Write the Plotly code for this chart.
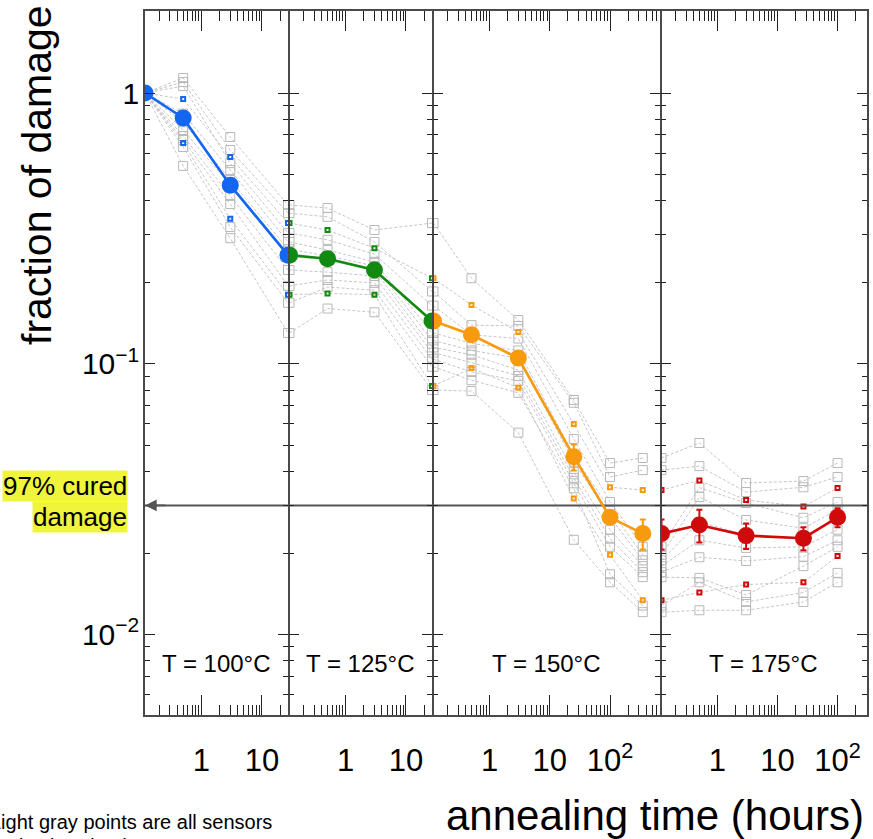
import numpy as np
import plotly.graph_objects as go

# ---------------------------------------------------------------- data
T_START = 0.117          # start of each annealing step (left edge of its panel)
CURED_LEVEL = 0.03       # 97 % of the damage annealed

TEMPS = ["100", "125", "150", "175"]

# annealing time at each temperature (hours)
TIMES_100 = [T_START, 0.5, 3, 27]
TIMES_125 = [T_START, 0.5, 3, 27]
TIMES_150 = [T_START, 0.5, 3, 25, 100, 350]
TIMES_175 = [T_START, 0.5, 3, 27, 100]

# average fraction of damage and its uncertainty
AVG_100 = [1.0, 0.809, 0.457, 0.252]
AVG_125 = [0.252, 0.2445, 0.222, 0.144]
AVG_150 = [0.144, 0.128, 0.105, 0.0454, 0.0271, 0.0236]
AVG_175 = [0.0236, 0.0254, 0.0232, 0.0227, 0.0271]

ERR_100 = [0.0, 0.02, 0.015, 0.008]
ERR_125 = [0.008, 0.008, 0.007, 0.006]
ERR_150 = [0.006, 0.005, 0.005, 0.005, 0.0015, 0.003]
ERR_175 = [0.003, 0.0035, 0.0025, 0.0022, 0.0022]

# individual sensors: one row per time point, one column per sensor
S_100 = [
    [1.0, 1.0, 1.0, 1.0, 1.0, 1.0, 1.0, 1.0, 1.0, 1.0, 1.0, 1.0],
    [1.136, 1.098, 0.950, 1.061, 0.840, 0.780, 0.730, 0.694, 0.671, 0.654, 0.632, 0.538],
    [0.688, 0.616, 0.580, 0.551, 0.520, 0.477, 0.457, 0.417, 0.389, 0.343, 0.320, 0.291],
    [0.386, 0.360, 0.331, 0.304, 0.282, 0.265, 0.250, 0.222, 0.194, 0.180, 0.168, 0.130],
]
S_125 = [
    S_100[-1],
    [0.376, 0.349, 0.312, 0.287, 0.263, 0.250, 0.242, 0.218, 0.204, 0.182, 0.192, 0.160],
    [0.312, 0.282, 0.267, 0.254, 0.238, 0.230, 0.222, 0.211, 0.199, 0.180, 0.187, 0.155],
    [0.331, 0.185, 0.207, 0.164, 0.130, 0.122, 0.115, 0.110, 0.104, 0.0828, 0.0975, 0.0800],
]
S_150 = [
    S_125[-1],
    [0.207, 0.139, 0.165, 0.128, 0.119, 0.112, 0.108, 0.101, 0.0933, 0.0964, 0.0870, 0.0793],
    [0.145, 0.138, 0.131, 0.124, 0.112, 0.105, 0.0948, 0.0902, 0.0865, 0.0815, 0.0781, 0.0557],
    [0.0735, 0.0718, 0.0599, 0.0528, 0.0459, 0.0435, 0.0399, 0.0379, 0.0362, 0.0318, 0.0347, 0.0224],
    [0.0430, 0.0382, 0.0350, 0.0309, 0.0289, 0.0272, 0.0244, 0.0226, 0.0211, 0.0197, 0.0167, 0.0156],
    [0.0449, 0.0405, 0.0342, 0.0211, 0.0197, 0.0188, 0.0179, 0.0170, 0.0163, 0.0134, 0.0128, 0.0121],
]
S_175 = [
    S_150[-1],
    [0.0510, 0.0419, 0.0371, 0.0349, 0.0322, 0.0261, 0.0223, 0.0193, 0.0162, 0.0143, 0.0156, 0.0123],
    [0.0363, 0.0336, 0.0314, 0.0306, 0.0265, 0.0233, 0.0209, 0.0187, 0.0140, 0.0153, 0.0132, 0.0123],
    [0.0369, 0.0350, 0.0297, 0.0270, 0.0247, 0.0225, 0.0211, 0.0194, 0.0179, 0.0156, 0.0143, 0.0132],
    [0.0430, 0.0382, 0.0348, 0.0309, 0.0289, 0.0272, 0.0244, 0.0223, 0.0211, 0.0195, 0.0169, 0.0156],
]

# sensors drawn with coloured markers
HIGHLIGHT = [2, 9]

X_TICKS = [1, 10, 100]
X_TICK_TEXT = ["1", "10", "10<sup>2</sup>"]
Y_TICKS = [0.01, 0.1, 1]
Y_TICK_TEXT = ["10<sup>\u22122</sup>", "10<sup>\u22121</sup>", "1"]

# ---------------------------------------------------------------- styling
W, H = 873, 839
FONT = "Liberation Sans, Arial, Helvetica, sans-serif"
COLORS = ["#1466f0", "#128a12", "#f79a0e", "#d00a0a"]
GRAY_LINE = "#c6c6c6"
GRAY_MARK = "#b8b8b8"
AXIS_COLOR = "#4a4a4a"
TICK_COLOR = "#222222"
LINE_W = 1.5

# panel extents in pixels and log10 x-ranges
PANEL_PX = [(145, 288), (288, 432), (432, 660), (660, 867)]
X_RANGES = [
    (np.log10(T_START), np.log10(27)),
    (np.log10(T_START), np.log10(27)),
    (np.log10(T_START), 2.83),
    (np.log10(T_START), 2.49),
]
Y_PX = (11, 715)
Y_RANGE = (-2.297, 0.303)


def px(x):
    return x / W


def py(y):
    return 1 - y / H


x_minor = [m * 10.0 ** e for e in (-1, 0, 1, 2) for m in range(2, 10)]
y_minor = [m * 10.0 ** e for e in (-3, -2, -1, 0) for m in range(2, 10)]

panels = [
    (TIMES_100, S_100, AVG_100, ERR_100),
    (TIMES_125, S_125, AVG_125, ERR_125),
    (TIMES_150, S_150, AVG_150, ERR_150),
    (TIMES_175, S_175, AVG_175, ERR_175),
]

fig = go.Figure()

for k, (times, sensors, avg, err) in enumerate(panels):
    xa = "x" if k == 0 else f"x{k + 1}"
    ya = "y" if k == 0 else f"y{k + 1}"
    color = COLORS[k]
    n_sens = len(sensors[0])

    # dashed gray path of every sensor
    gx, gy = [], []
    for s in range(n_sens):
        gx += list(times) + [None]
        gy += [row[s] for row in sensors] + [None]
    fig.add_trace(go.Scatter(
        x=gx, y=gy, mode="lines", xaxis=xa, yaxis=ya,
        line=dict(color=GRAY_LINE, width=1, dash="3px,2px"),
        hoverinfo="skip", showlegend=False))

    # open gray squares, coloured marks for the highlighted sensors
    mx, my, hx, hy = [], [], [], []
    for s in range(n_sens):
        for t, row in zip(times, sensors):
            if s in HIGHLIGHT:
                hx.append(t)
                hy.append(row[s])
            else:
                mx.append(t)
                my.append(row[s])
    fig.add_trace(go.Scatter(
        x=mx, y=my, mode="markers", xaxis=xa, yaxis=ya,
        marker=dict(symbol="square-open", size=9, color=GRAY_MARK,
                    line=dict(width=1, color=GRAY_MARK)),
        hoverinfo="skip", showlegend=False))
    fig.add_trace(go.Scatter(
        x=hx, y=hy, mode="markers", xaxis=xa, yaxis=ya,
        marker=dict(symbol="square-open", size=4, color=color,
                    line=dict(width=2, color=color)),
        hoverinfo="skip", showlegend=False))

    # 97 % cured reference level
    r0, r1 = X_RANGES[k]
    fig.add_trace(go.Scatter(
        x=[10 ** r0, 10 ** r1], y=[CURED_LEVEL, CURED_LEVEL], mode="lines",
        xaxis=xa, yaxis=ya, line=dict(color="#555555", width=2),
        hoverinfo="skip", showlegend=False))

    # average over sensors
    fig.add_trace(go.Scatter(
        x=times, y=avg, mode="lines+markers", xaxis=xa, yaxis=ya,
        line=dict(color=color, width=2.6),
        marker=dict(size=17, color=color, line=dict(width=0)),
        error_y=dict(type="data", array=err, color=color, thickness=2, width=3),
        showlegend=False))

# ---------------------------------------------------------------- axes
layout = dict(
    width=W, height=H, autosize=False,
    margin=dict(l=0, r=0, t=0, b=0),
    paper_bgcolor="white", plot_bgcolor="white",
    font=dict(family=FONT, color="black"),
    showlegend=False,
)

for k in range(4):
    xkey = "xaxis" if k == 0 else f"xaxis{k + 1}"
    ykey = "yaxis" if k == 0 else f"yaxis{k + 1}"
    xa = "x" if k == 0 else f"x{k + 1}"
    ya = "y" if k == 0 else f"y{k + 1}"
    x0, x1 = PANEL_PX[k]
    if k > 0:
        # shared border: let this panel's left line sit on the previous right line
        x0 = x0 + LINE_W
    layout[xkey] = dict(
        type="log", range=list(X_RANGES[k]), domain=[px(x0), px(x1)],
        anchor=ya, showgrid=False, zeroline=False,
        showline=True, linecolor=AXIS_COLOR, linewidth=LINE_W, mirror="ticks",
        ticks="inside", ticklen=20, tickwidth=1.2, tickcolor=TICK_COLOR,
        tickvals=X_TICKS, ticktext=X_TICK_TEXT,
        tickfont=dict(size=31, family=FONT, color="black"),
        ticklabelstandoff=17,
        minor=dict(tickvals=x_minor, ticks="inside", ticklen=10,
                   tickwidth=1.2, tickcolor=TICK_COLOR, showgrid=False),
    )
    layout[ykey] = dict(
        type="log", range=list(Y_RANGE), domain=[py(Y_PX[1]), py(Y_PX[0])],
        anchor=xa, showgrid=False, zeroline=False,
        showline=True, linecolor=AXIS_COLOR, linewidth=LINE_W, mirror="ticks",
        ticks="inside", ticklen=10, tickwidth=1.2, tickcolor=TICK_COLOR,
        tickvals=Y_TICKS, ticktext=Y_TICK_TEXT,
        tickfont=dict(size=30, family=FONT, color="black"),
        showticklabels=(k == 0), ticklabelstandoff=-2,
        minor=dict(tickvals=y_minor, ticks="inside", ticklen=5,
                   tickwidth=1.2, tickcolor=TICK_COLOR, showgrid=False),
    )

fig.update_layout(**layout)

# ---------------------------------------------------------------- text
ann = []
ann.append(dict(text="fraction of damage", xref="paper", yref="paper",
                x=px(37), y=py(175), textangle=-90, showarrow=False,
                xanchor="center", yanchor="middle",
                font=dict(size=41, family=FONT, color="black")))
ann.append(dict(text="annealing time (hours)", xref="paper", yref="paper",
                x=px(655), y=py(815), showarrow=False,
                xanchor="center", yanchor="middle",
                font=dict(size=42, family=FONT, color="black")))
for k, temp in enumerate(TEMPS):
    x0, x1 = PANEL_PX[k]
    ann.append(dict(text=f"T = {temp}\u00b0C", xref="paper", yref="paper",
                    x=px((x0 + x1) / 2), y=py(663), showarrow=False,
                    xanchor="center", yanchor="middle",
                    font=dict(size=24, family=FONT, color="black")))

ann.append(dict(text="97% cured", xref="paper", yref="paper",
                x=px(128), y=py(486), showarrow=False,
                xanchor="right", yanchor="middle", bgcolor="#f0f53c",
                borderpad=0, font=dict(size=26, family=FONT, color="black")))
ann.append(dict(text="damage", xref="paper", yref="paper",
                x=px(128), y=py(517), showarrow=False,
                xanchor="right", yanchor="middle", bgcolor="#f0f53c",
                borderpad=0, font=dict(size=26, family=FONT, color="black")))

# arrow head at the left end of the 97 % line
ann.append(dict(text="", xref="x", yref="y",
                x=np.log10(T_START), y=np.log10(CURED_LEVEL),
                ax=22, ay=0, showarrow=True, arrowhead=2, arrowsize=1.3,
                arrowwidth=1.8, arrowcolor="#555555", standoff=0))

ann.append(dict(text="Light gray points are all sensors", xref="paper", yref="paper",
                x=px(-12), y=py(822), showarrow=False,
                xanchor="left", yanchor="middle",
                font=dict(size=20, family=FONT, color="black")))
ann.append(dict(text="and colored points are averages", xref="paper", yref="paper",
                x=px(-12), y=py(846), showarrow=False,
                xanchor="left", yanchor="middle",
                font=dict(size=20, family=FONT, color="black")))

fig.update_layout(annotations=ann)

fig.write_html("out.html")
